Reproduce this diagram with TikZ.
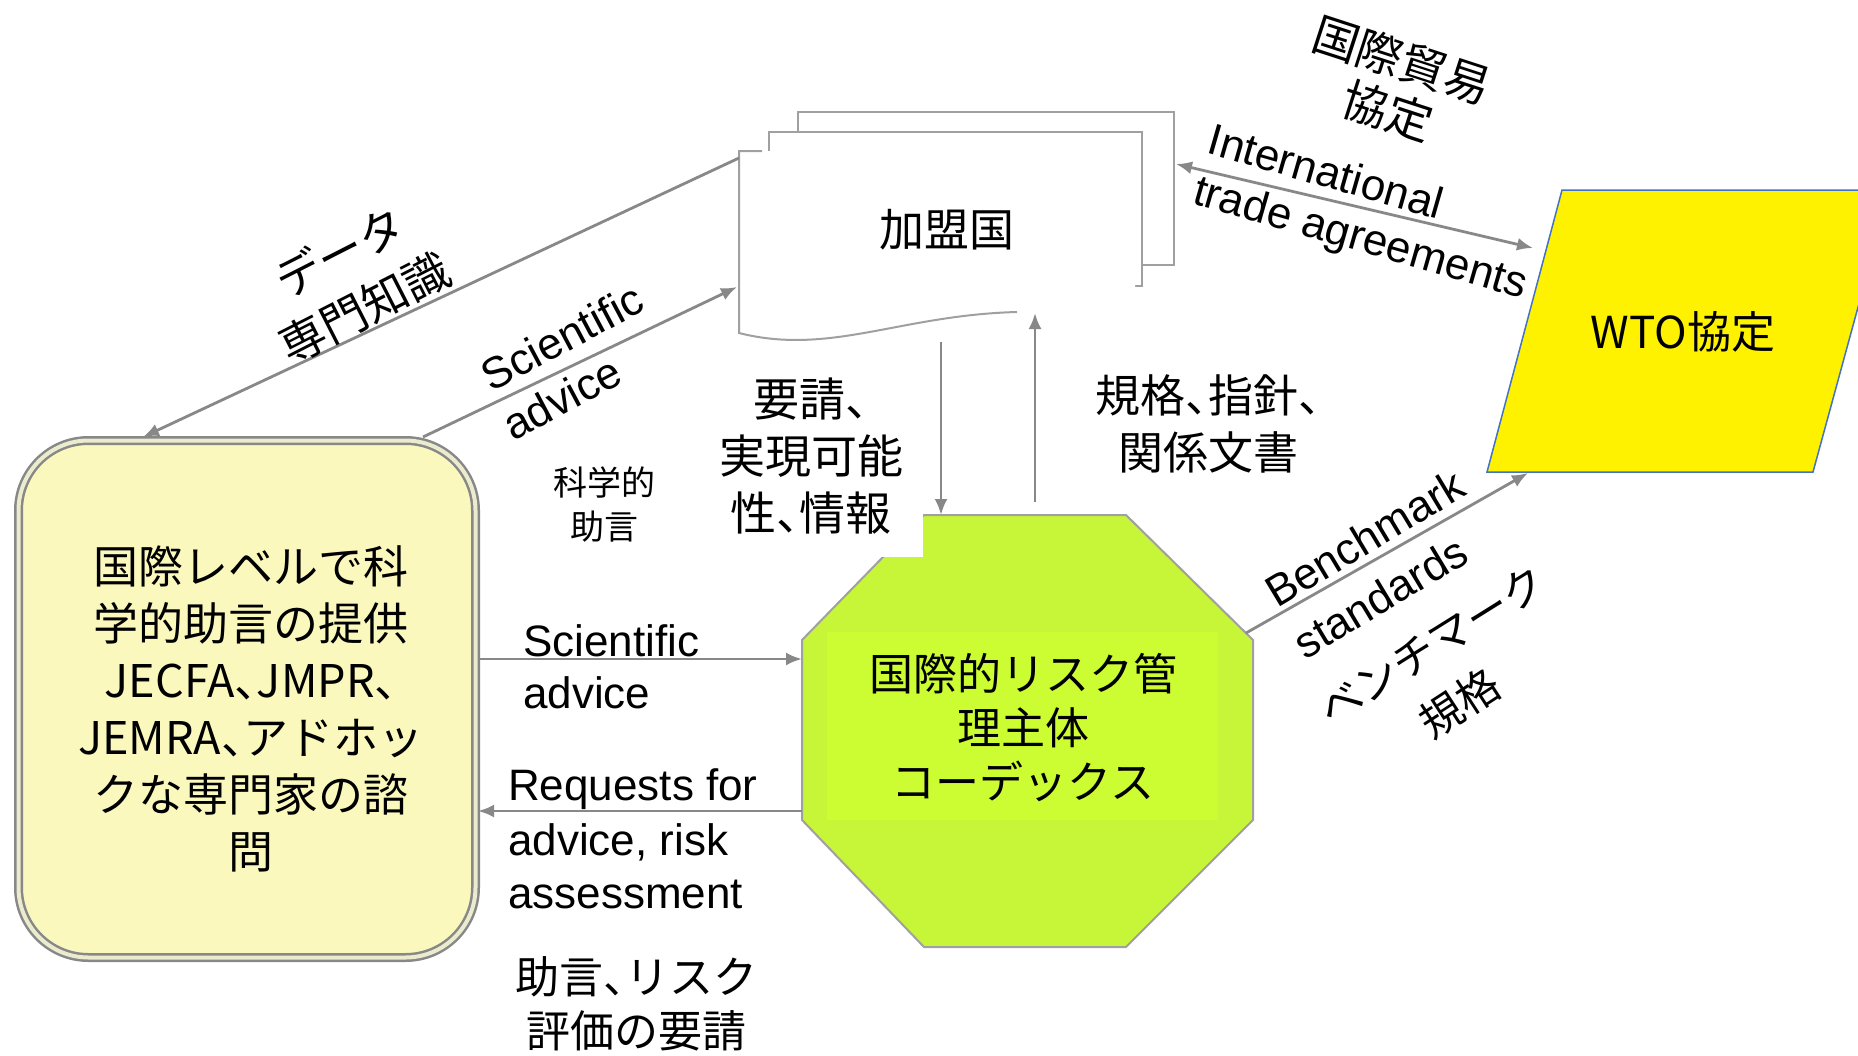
\documentclass[tikz,border=0pt]{standalone}
\usepackage{fontspec}
\setmainfont{Noto Sans CJK JP}
\newfontfamily\jphalt[RawFeature=+halt]{Noto Sans CJK JP}
\newcommand\tou{{\jphalt 、}}
\newfontfamily\arialf{Liberation Sans}
\usetikzlibrary{arrows.meta}
\definecolor{lgray}{RGB}{136,136,136}
\definecolor{bgray}{RGB}{160,160,160}
\definecolor{boxyel}{RGB}{251,248,190}
\definecolor{boxgap}{RGB}{235,235,205}
\definecolor{codexg}{RGB}{199,245,55}
\definecolor{codexin}{RGB}{204,252,50}
\definecolor{wtoblue}{RGB}{68,114,196}
\begin{document}
\begin{tikzpicture}[x=1pt,y=-1pt,
  conn/.style={draw=lgray, line width=2.8pt},
  tip/.style={-{Latex[length=16pt,width=13pt]}},
  tips/.style={{Latex[length=16pt,width=13pt]}-{Latex[length=16pt,width=13pt]}},
  jp/.style={font=\fontsize{45}{57}\selectfont, inner sep=0pt, align=center},
  jpl/.style={font=\fontsize{44}{54}\selectfont, inner sep=0pt, align=center},
  en/.style={font=\arialf\fontsize{44}{53}\selectfont, inner sep=0pt},
  page/.style={fill=white, draw=bgray, line width=2pt},
]
\fill[white] (0,0) rectangle (1858,1055);
\useasboundingbox (0,0) rectangle (1858,1055);
\clip (0,0) rectangle (1858,1055);

% ---------- member states (document stack)
\draw[page] (798,112) rectangle (1174,265);
\draw[page] (769,132) rectangle (1142,286);
\fill[white] (739,151) -- (1135,151) -- (1135,306) -- (1017,312)
  .. controls (900,315) and (830,356) .. (739,333) -- cycle;
\draw[draw=bgray, line width=2pt] (762,151) -- (739,151) -- (739,333)
  .. controls (830,356) and (900,315) .. (1017,312);
\node[jp] (ms) at (947,230) {加盟国};

% ---------- left box
\node[draw=lgray, line width=2.5pt, double=boxgap, double distance=4pt,
      fill=boxyel, rounded corners=70pt, minimum width=457pt,
      minimum height=517pt, inner sep=0pt] (sci) at (247,699) {};
\node[jp] (scitxt) at (251,709)
  {国際レベルで科\\学的助言の提供\\JECFA\tou JMPR\tou\\JEMRA\tou アドホッ\\クな専門家の諮\\問};

% ---------- codex octagon
\draw[fill=codexg, draw=bgray, line width=2pt]
  (924,515) -- (1126,515) -- (1253,640) -- (1253,820) -- (1126,947)
  -- (924,947) -- (802,820) -- (802,640) -- cycle;
\fill[codexin] (827,632) rectangle (1218,820);
\node[jpl] (codex) at (1023,728) {国際的リスク管\\理主体\\コーデックス};

% ---------- WTO parallelogram
\draw[fill=yellow, draw=wtoblue, line width=1.5pt]
  (1562,190) -- (1890,190) -- (1813,472) -- (1487,472) -- cycle;
\node[jpl] (wto) at (1683,332) {WTO協定};

% ---------- connector end points
\coordinate (msL1) at (739,158);
\coordinate (sciT1) at (143,437);
\coordinate (sciT2) at (423,437);
\coordinate (msL2) at (737,287);
\coordinate (sciR1) at (480,659);
\coordinate (codexL1) at (802,659);
\coordinate (codexL2) at (802,811);
\coordinate (sciR2) at (478,811);
\coordinate (msB1) at (941,342);
\coordinate (codexT1) at (941,515);
\coordinate (codexT2) at (1035,502);
\coordinate (msB2) at (1035,313);
\coordinate (msR) at (1176,164);
\coordinate (wtoL) at (1533,248);
\coordinate (codexR) at (1246,633);
\coordinate (wtoB) at (1528,473);

% ---------- connectors
\draw[conn,tip] (msL1) -- (sciT1);
\draw[conn,tip] (sciT2) -- (msL2);
\draw[conn,tip] (sciR1) -- (codexL1);
\draw[conn,tip] (codexL2) -- (sciR2);
\draw[conn,tip] (msB1) -- (codexT1);
\draw[conn,tip] (codexT2) -- (msB2);
\draw[conn,tips] (msR) -- (wtoL);
\draw[conn,tip] (codexR) -- (wtoB);

% ---------- label with white background over the octagon corner
\node[fill=white, minimum width=223pt, minimum height=202pt, inner sep=0pt,
      font=\fontsize{46}{57}\selectfont, align=center] (lblreq) at (811,456)
  {要請\tou\\実現可能\\性\tou 情報};

% ---------- labels
\node[jp, font=\fontsize{46}{56}\selectfont, rotate=27] (ldata) at (340,252) {データ};
\node[jp, font=\fontsize{46}{56}\selectfont, rotate=27] (lexp) at (365,308) {専門知識};
\node[en, rotate=28] (lsa1) at (562,337) {Scientific};
\node[en, rotate=28] (lsa2) at (562,398) {advice};
\node[jp, font=\fontsize{34}{44}\selectfont] (lkagaku) at (604,505) {科学的\\助言};
\node[en, anchor=west] (lsb1) at (523,641) {Scientific};
\node[en, anchor=west] (lsb2) at (523,693) {advice};
\node[en, anchor=west] (lreq1) at (508,789) {Requests for};
\node[en, anchor=west] (lreq2) at (508,842) {advice, risk};
\node[en, anchor=west] (lreq3) at (508,894) {assessment};
\node[jpl] (ljoseki) at (636,1004) {助言\tou リスク\\評価の要請};
\node[jp] (lkikaku) at (1208,424) {規格\tou 指針\tou\\関係文書};
\node[jp, font=\fontsize{46}{56}\selectfont, rotate=-18] (ltrade1) at (1402,60) {国際貿易};
\node[jp, font=\fontsize{46}{56}\selectfont, rotate=-18] (ltrade2) at (1388,111) {協定};
\node[en, rotate=-16] (lint1) at (1326,171) {International};
\node[en, rotate=-16] (lint2) at (1360,240) {trade agreements};
\node[en, rotate=31] (lbench1) at (1365,538) {Benchmark};
\node[en, rotate=31] (lbench2) at (1380,597) {standards};
\node[jp, font=\fontsize{43}{54}\selectfont, rotate=32] (lbjp1) at (1432,645) {ベンチマーク};
\node[jp, font=\fontsize{43}{54}\selectfont, rotate=33] (lbjp2) at (1460,703) {規格};
\end{tikzpicture}
\end{document}
